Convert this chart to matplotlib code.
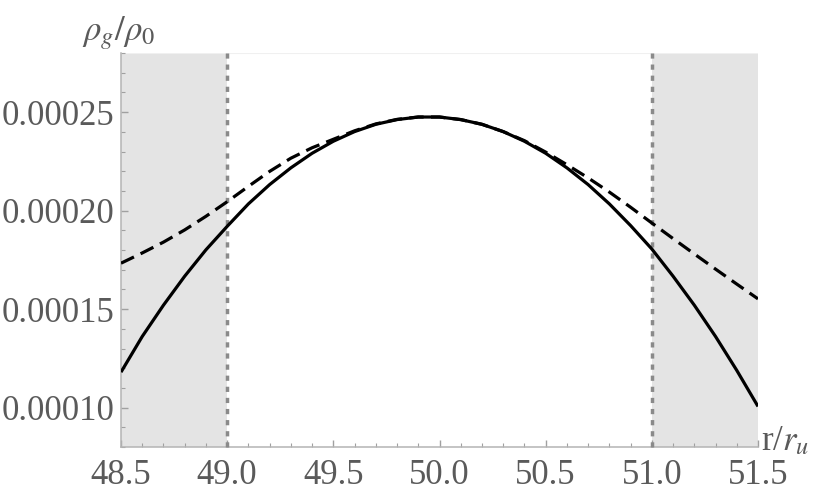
import matplotlib
matplotlib.use("Agg")
import matplotlib.pyplot as plt
from matplotlib.ticker import MultipleLocator, FormatStrFormatter

# ---- data ----
r_vals = [48.5, 48.6, 48.7, 48.8, 48.9, 49.0, 49.1, 49.2, 49.3, 49.4, 49.5,
          49.6, 49.7, 49.8, 49.9, 50.0, 50.1, 50.2, 50.3, 50.4, 50.5,
          50.6, 50.7, 50.8, 50.9, 51.0, 51.1, 51.2, 51.3, 51.4, 51.5]
solid_vals = [1.180, 1.361, 1.520, 1.667, 1.801, 1.920, 2.034, 2.132, 2.217, 2.291, 2.352,
              2.401, 2.438, 2.462, 2.475, 2.475, 2.462, 2.438, 2.401, 2.352, 2.291,
              2.217, 2.132, 2.034, 1.924, 1.805, 1.667, 1.520, 1.361, 1.189, 1.006]
dashed_vals = [1.733, 1.785, 1.840, 1.902, 1.971, 2.045, 2.123, 2.199, 2.266, 2.319, 2.362,
               2.405, 2.440, 2.463, 2.475, 2.475, 2.462, 2.438, 2.401, 2.355, 2.297,
               2.233, 2.166, 2.094, 2.017, 1.937, 1.858, 1.780, 1.703, 1.627, 1.552]
scale = 1e-4
shade_left = (48.5, 49.0)
shade_right = (51.0, 51.5)
boundaries = [49.0, 51.0]
x_ticks = [48.5, 49.0, 49.5, 50.0, 50.5, 51.0, 51.5]
y_ticks = [0.00010, 0.00015, 0.00020, 0.00025]
x_lim = (48.5, 51.5)
y_lim = (0.00008, 0.00028)

plt.rcParams['font.family'] = ['Liberation Serif', 'DejaVu Serif']
plt.rcParams['mathtext.fontset'] = 'stix'

fig = plt.figure(figsize=(8.3, 4.96), dpi=100)
ax = fig.add_axes([121/830, 1-447/496, (758-121)/830, (447-53)/496])

ax.set_xlim(*x_lim)
ax.set_ylim(*y_lim)

ax.axvspan(*shade_left, color='#e4e4e4', lw=0, zorder=0)
ax.axvspan(*shade_right, color='#e4e4e4', lw=0, zorder=0)
ax.axhline(y_lim[1], color='#f0f0f0', lw=0.8, zorder=0.5)

for b in boundaries:
    ax.axvline(b, color='#8a8a8a', lw=2.5, ls=(0, (1.5, 1.7)), zorder=3,
               clip_on=False)

ax.plot(r_vals, [v*scale for v in solid_vals], color='black', lw=2.3,
        solid_capstyle='butt', solid_joinstyle='round', zorder=4)
ax.plot(r_vals, [v*scale for v in dashed_vals], color='black', lw=2.3,
        ls=(0, (4.5, 2.3)), zorder=4)

for s in ['top', 'right']:
    ax.spines[s].set_visible(False)
for s in ['left', 'bottom']:
    ax.spines[s].set_color('#b4b4b4')
    ax.spines[s].set_linewidth(1.1)

ax.set_xticks(x_ticks)
ax.set_yticks(y_ticks)
ax.xaxis.set_minor_locator(MultipleLocator(0.1))
ax.yaxis.set_minor_locator(MultipleLocator(0.00001))
ax.yaxis.set_major_formatter(FormatStrFormatter('%.5f'))
ax.xaxis.set_major_formatter(FormatStrFormatter('%.1f'))
ax.tick_params(which='both', direction='in', color='#a0a0a0', labelcolor='#5a5a5a',
               labelsize=25)
ax.tick_params(which='major', length=5, width=1.0)
ax.tick_params(which='minor', length=3, width=0.8)
ax.tick_params(axis='x', pad=9)
ax.tick_params(axis='y', pad=5)

fig.text(82/830, 1-40/496, r'$\rho_g/\rho_0$', fontsize=25, color='#5a5a5a',
         ha='left', va='baseline')
fig.text(761/830, 1-450/496, r'r/$r_u$', fontsize=25, color='#5a5a5a',
         ha='left', va='baseline')

fig.savefig('out.png', dpi=100)
